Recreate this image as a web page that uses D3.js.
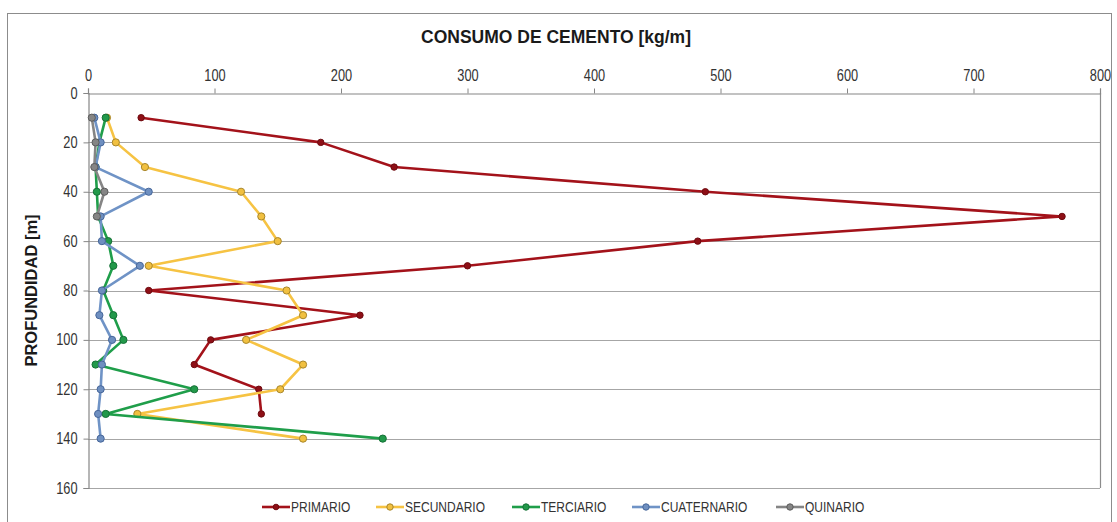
<!DOCTYPE html>
<html>
<head>
<meta charset="utf-8">
<script src="https://cdn.jsdelivr.net/npm/d3@7/dist/d3.min.js"></script>
<style>
  html, body { margin: 0; padding: 0; background: #ffffff; }
  svg { display: block; }
  text { font-family: "Liberation Sans", Arial, sans-serif; }
</style>
</head>
<body>
<svg id="chart" width="1117" height="522"></svg>
<script>
// ---- data ----
const depths = [10, 20, 30, 40, 50, 60, 70, 80, 90, 100, 110, 120, 130, 140];
const primario    = [42, 184, 242, 488, 770, 482, 300, 48, 215, 97, 84, 135, 137, null];
const secundario  = [15, 22, 45, 121, 137, 150, 48, 157, 170, 125, 170, 152, 39, 170];
const terciario   = [14, 9, 6, 7, 8, 16, 20, 12, 20, 28, 6, 84, 14, 233];
const cuaternario = [5, 10, 6, 48, 10, 11, 41, 11, 9, 19, 11, 10, 8, 10];
const quinario    = [3, 6, 5, 13, 7, null, null, null, null, null, null, null, null, null];
const seriesNames = ["PRIMARIO", "SECUNDARIO", "TERCIARIO", "CUATERNARIO", "QUINARIO"];
const xTicks = [0, 100, 200, 300, 400, 500, 600, 700, 800];
const yTicks = [0, 20, 40, 60, 80, 100, 120, 140, 160];
const titleText = "CONSUMO DE CEMENTO [kg/m]";
const yTitleText = "PROFUNDIDAD [m]";

const seriesValues = [primario, secundario, terciario, cuaternario, quinario];
const styles = [
  { line: "#a3121a", fill: "#8e0f16", stroke: "#6e0b10", r: 3.2 },
  { line: "#f6c343", fill: "#f1c040", stroke: "#a8862a", r: 3.6 },
  { line: "#1f9e4a", fill: "#22994a", stroke: "#157036", r: 3.6 },
  { line: "#6f93c6", fill: "#6e8fc0", stroke: "#46669a", r: 3.6 },
  { line: "#858585", fill: "#858585", stroke: "#5c5c5c", r: 3.6 }
];
const SX = 0.8; // horizontal squeeze to imitate a narrow font

const svg = d3.select("#chart");

// outer chart border
svg.append("rect")
  .attr("x", 7.5).attr("y", 13.5).attr("width", 1104).attr("height", 514)
  .attr("fill", "#ffffff").attr("stroke", "#8c8c8c").attr("stroke-width", 1);

const x = d3.scaleLinear().domain([0, 800]).range([88, 1100]);
const y = d3.scaleLinear().domain([0, 160]).range([93, 488]);

// gridlines
svg.append("g").selectAll("line").data(yTicks.slice(1)).join("line")
  .attr("x1", x(0)).attr("x2", x(800))
  .attr("y1", d => Math.round(y(d)) + 0.5).attr("y2", d => Math.round(y(d)) + 0.5)
  .attr("stroke", "#a6a6a6").attr("stroke-width", 1.2);

// right border of plot
svg.append("line")
  .attr("x1", Math.round(x(800)) + 0.5).attr("x2", Math.round(x(800)) + 0.5)
  .attr("y1", y(0)).attr("y2", y(160))
  .attr("stroke", "#8c8c8c").attr("stroke-width", 1.2);

// top axis
const gx = svg.append("g")
  .attr("transform", `translate(0,${Math.round(y(0)) + 0.5})`)
  .call(d3.axisTop(x).tickValues(xTicks).tickSize(5).tickPadding(8).tickFormat(d3.format("d")));
gx.select(".domain").attr("stroke", "#868686").attr("stroke-width", 1.2);
gx.selectAll(".tick line").attr("stroke", "#868686");
gx.selectAll(".tick text").attr("fill", "#333333").attr("font-size", 16)
  .attr("transform", `scale(${SX},1)`)
  .style("font-family", '"Liberation Sans", Arial, sans-serif');

// left axis
const gy = svg.append("g")
  .attr("transform", `translate(${Math.round(x(0)) + 0.5},0)`)
  .call(d3.axisLeft(y).tickValues(yTicks).tickSize(5).tickPadding(6).tickFormat(d3.format("d")));
gy.select(".domain").attr("stroke", "#868686").attr("stroke-width", 1.2);
gy.selectAll(".tick line").attr("stroke", "#868686");
gy.selectAll(".tick text").attr("fill", "#333333").attr("font-size", 16)
  .attr("x", -11 / SX)
  .attr("transform", `scale(${SX},1)`)
  .style("font-family", '"Liberation Sans", Arial, sans-serif');

// titles
svg.append("text")
  .attr("x", 556).attr("y", 43).attr("text-anchor", "middle")
  .attr("font-size", 17.5).attr("font-weight", "bold").attr("fill", "#1a1a1a")
  .text(titleText);

svg.append("text")
  .attr("transform", `translate(37,${(y(0) + y(160)) / 2}) rotate(-90)`)
  .attr("text-anchor", "middle")
  .attr("font-size", 16.5).attr("font-weight", "bold").attr("fill", "#1a1a1a")
  .text(yTitleText);

// series
const line = d3.line()
  .defined(d => d.v != null)
  .x(d => x(d.v)).y(d => y(d.d));

seriesValues.forEach((vals, i) => {
  const pts = depths.map((d, j) => ({ d: d, v: vals[j] }));
  const st = styles[i];
  const g = svg.append("g");
  g.append("path")
    .datum(pts)
    .attr("d", line)
    .attr("fill", "none")
    .attr("stroke", st.line)
    .attr("stroke-width", 2.6)
    .attr("stroke-linejoin", "round");
  g.selectAll("circle").data(pts.filter(p => p.v != null)).join("circle")
    .attr("cx", p => x(p.v)).attr("cy", p => y(p.d)).attr("r", st.r)
    .attr("fill", st.fill).attr("stroke", st.stroke).attr("stroke-width", 1);
});

// legend
const legendX = [262, 376, 512, 632, 776];
const legendY = 507;
const lg = svg.append("g");
seriesNames.forEach((name, i) => {
  const st = styles[i];
  const gx0 = legendX[i];
  lg.append("line")
    .attr("x1", gx0).attr("x2", gx0 + 28).attr("y1", legendY).attr("y2", legendY)
    .attr("stroke", st.line).attr("stroke-width", 2.6);
  lg.append("circle")
    .attr("cx", gx0 + 14).attr("cy", legendY).attr("r", st.r - 0.4)
    .attr("fill", st.fill).attr("stroke", st.stroke).attr("stroke-width", 1);
  lg.append("text")
    .attr("transform", `translate(${gx0 + 29},${legendY + 5}) scale(${SX},1)`)
    .attr("font-size", 15).attr("fill", "#333333")
    .text(name);
});
</script>
</body>
</html>
